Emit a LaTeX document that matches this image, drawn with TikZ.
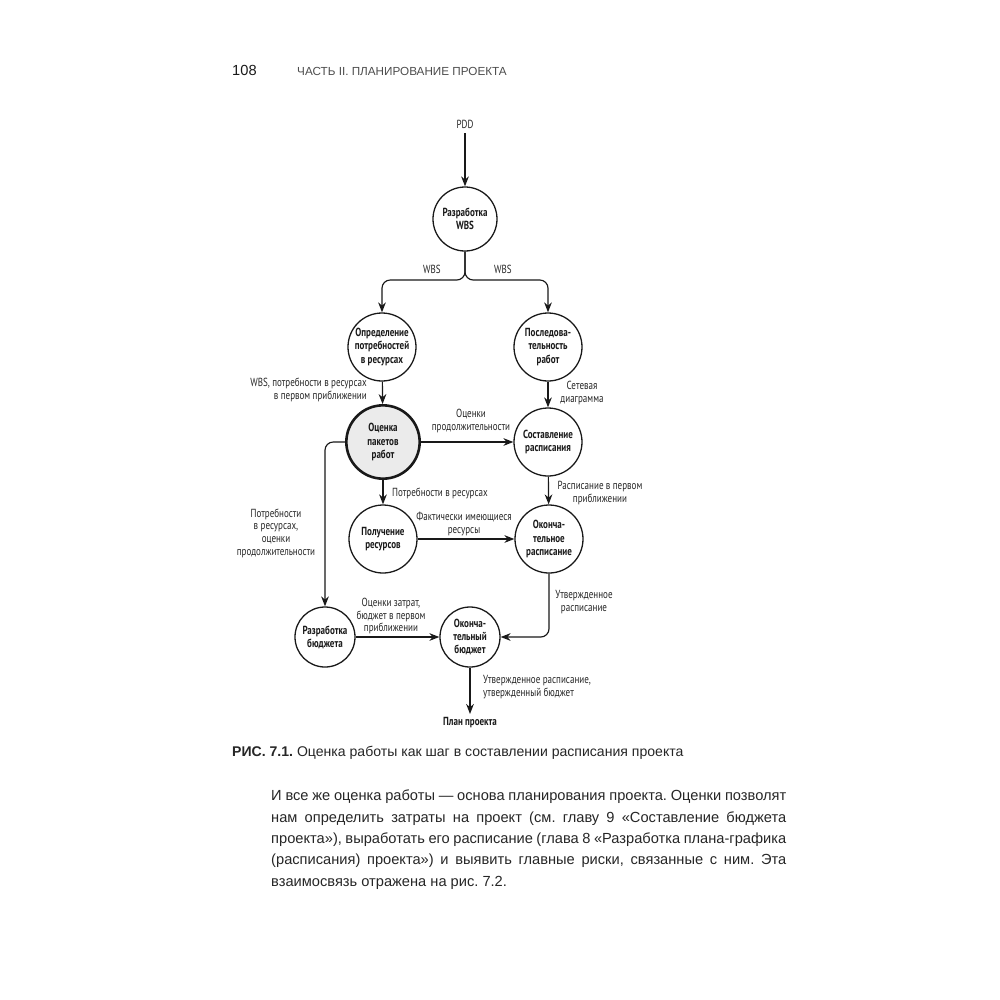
\documentclass[tikz,border=0pt]{standalone}
\usepackage{fontspec}
\setmainfont{Liberation Sans}
\newfontfamily\shemfont[FakeStretch=0.77]{PT Sans}
\usetikzlibrary{arrows.meta}
\frenchspacing
\begin{document}
\begin{tikzpicture}[x=0.03cm, y=-0.03cm,
  etap/.style={circle, draw=black!90, line width=1.1pt, minimum size=#1, inner sep=0pt,
    align=center, text=black!90, font=\shemfont\bfseries\fontsize{10}{11.2}\selectfont},
  etap/.default=2.04cm,
  glavn/.style={etap=2.2cm, line width=2.2pt, fill=black!8},
  metka/.style={font=\shemfont\fontsize{10}{10.8}\selectfont, text=black!85, inner sep=0pt},
  strelka/.style={draw=black!90, line width=1pt, -{Stealth[length=3mm, width=2.3mm]}}]
  \useasboundingbox (0,0) rectangle (1000,1000);
  % page header
  \node[anchor=base west, inner sep=0pt, font=\fontsize{12.5}{14}\selectfont, text=black!90] (stran) at (232,75) {108};
  \node[anchor=base west, inner sep=0pt, font=\fontsize{10}{12}\selectfont, text=black!70] (kolont) at (297,75) {ЧАСТЬ II. ПЛАНИРОВАНИЕ ПРОЕКТА};
  % stages
  \node[metka, inner sep=4pt] (pdd) at (465,124) {PDD};
  \node[etap=1.92cm] (wbs) at (465,219) {Разработка\\WBS};
  \node[etap] (potr) at (382,347) {Определение\\потребностей\\в ресурсах};
  \node[etap] (posl) at (548,347) {Последова-\\тельность\\работ};
  \node[glavn] (ocen) at (383,442) {Оценка\\пакетов\\работ};
  \node[etap] (sost) at (548,442) {Составление\\расписания};
  \node[etap] (poluch) at (383,539) {Получение\\ресурсов};
  \node[etap] (okrasp) at (549,539) {Оконча-\\тельное\\расписание};
  \node[etap=1.8cm] (budg) at (325,637) {Разработка\\бюджета};
  \node[etap=1.8cm] (okbud) at (470,637) {Оконча-\\тельный\\бюджет};
  \node[metka, inner sep=3pt, font=\shemfont\bfseries\fontsize{10}{11}\selectfont, text=black!90] (plan) at (470,723) {План проекта};
  \coordinate (razv) at (465,280);
  % connectors
  \draw[strelka] (pdd) -- (wbs);
  \draw[strelka, rounded corners=7pt] (wbs.south) -- (razv) -| (potr.north);
  \draw[strelka, rounded corners=7pt] (wbs.south) -- (razv) -| (posl.north);
  \draw[strelka] (potr) -- (ocen);
  \draw[strelka] (posl) -- (sost);
  \draw[strelka] (ocen) -- (sost);
  \draw[strelka] (ocen) -- (poluch);
  \draw[strelka] (sost) -- (okrasp);
  \draw[strelka] (poluch) -- (okrasp);
  \draw[strelka, rounded corners=7pt] (ocen.west) -| (budg.north);
  \draw[strelka, rounded corners=7pt] (okrasp.south) |- (okbud.east);
  \draw[strelka] (budg) -- (okbud);
  \draw[strelka] (okbud) -- (plan);
  % labels
  \node[metka] (l1) at (432,269) {WBS};
  \node[metka] (l2) at (503,269) {WBS};
  \node[metka, align=right, anchor=east] (l3) at (367,390) {WBS, потребности в ресурсах\\в первом приближении};
  \node[metka, align=center] (l4) at (582,393) {Сетевая\\диаграмма};
  \node[metka, align=center] (l5) at (471,421) {Оценки\\продолжительности};
  \node[metka, anchor=west] (l6) at (392,493) {Потребности в ресурсах};
  \node[metka, align=center] (l7) at (600,493) {Расписание в первом\\приближении};
  \node[metka, align=center] (l8) at (464,524) {Фактически имеющиеся\\ресурсы};
  \node[metka, align=center] (l9) at (276,533) {Потребности\\в ресурсах,\\оценки\\продолжительности};
  \node[metka, align=center] (l10) at (584,602) {Утвержденное\\расписание};
  \node[metka, align=center] (l11) at (391,616) {Оценки затрат,\\бюджет в первом\\приближении};
  \node[metka, align=left, anchor=west] (l12) at (483,687) {Утвержденное расписание,\\утвержденный бюджет};
  % caption and text
  \node[anchor=base west, inner sep=0pt, font=\fontsize{12}{14}\selectfont, text=black!85] (podp) at (232,756)
    {\textbf{РИС. 7.1.} Оценка работы как шаг в составлении расписания проекта};
  \node[anchor=north west, inner sep=0pt, text=black!85, font=\fontsize{12.5}{18.2}\selectfont] (abz) at (271,790)
    {\parbox{15.45cm}{И все же оценка работы~— основа планирования проекта. Оценки позволят\linebreak
    нам определить затраты на проект (см. главу 9 «Составление бюджета\linebreak
    проекта»), выработать его расписание (глава 8 «Разработка плана-графика\linebreak
    (расписания) проекта») и выявить главные риски, связанные с ним. Эта\linebreak
    взаимосвязь отражена на рис. 7.2.}};
\end{tikzpicture}
\end{document}
